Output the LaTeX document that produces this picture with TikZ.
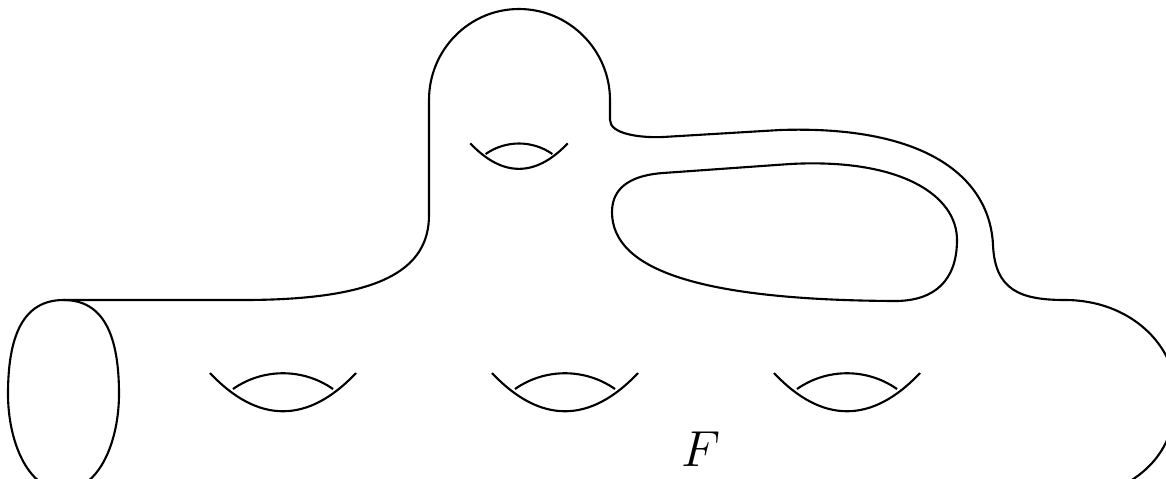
\documentclass[tikz,border=0pt]{standalone}
\usepackage{amsmath}
\begin{document}
\begin{tikzpicture}[
  x=0.01cm, y=-0.01cm,
  surface/.style={black, line width=0.6pt},
  hole/.style={black, line width=0.6pt}
]
\clip (0,0) rectangle (1166,478);
% Outer boundary of the surface.
\coordinate (lt) at (63.5,300);
\coordinate (nk) at (243,300);
\draw[surface] (lt) -- (nk)
  .. controls (380,300) and (429,270) .. (429,215)
  -- (429,100)
  .. controls (429,50) and (469,9) .. (519,9)
  .. controls (569,9) and (610,50) .. (610,100)
  -- (610,120)
  .. controls (610,134) and (640,138) .. (663,137)
  -- (780,130)
  .. controls (930,125) and (990,180) .. (993,245)
  .. controls (995,290) and (1020,300) .. (1065,300)
  .. controls (1130,300) and (1176,345) .. (1176,395)
  .. controls (1176,445) and (1150,478) .. (1100,495);

% Boundary circle on the left.
\draw[surface] (lt)
  .. controls (104,300) and (119,336) .. (119,394)
  .. controls (119,440) and (100,490) .. (63.5,490)
  .. controls (27,490) and (8,440) .. (8,394)
  .. controls (8,336) and (23,300) .. (lt) -- cycle;

% Hole under the handle.
\draw[surface] (663,173) -- (790,164)
  .. controls (900,158) and (957,195) .. (957,240)
  .. controls (957,280) and (935,301) .. (895,301)
  .. controls (700,300) and (612,270) .. (612,212)
  .. controls (612,185) and (635,175) .. (663,173) -- cycle;

% Genus holes.
\foreach \cx/\cy/\s in {283/392/1, 565/392/1, 847/392/1, 519/156/0.667}
{
  \begin{scope}[shift={(\cx,\cy)}, scale=\s]
    \draw[hole] (-73,-19) .. controls (-25,32) and (25,32) .. (73,-19);
    \draw[hole] (-50,-3) .. controls (-20,-24) and (20,-24) .. (50,-3);
  \end{scope}
}

\node[font=\fontsize{13.4}{16}\selectfont] (Flabel) at (701,449) {$F$};
\end{tikzpicture}
\end{document}
